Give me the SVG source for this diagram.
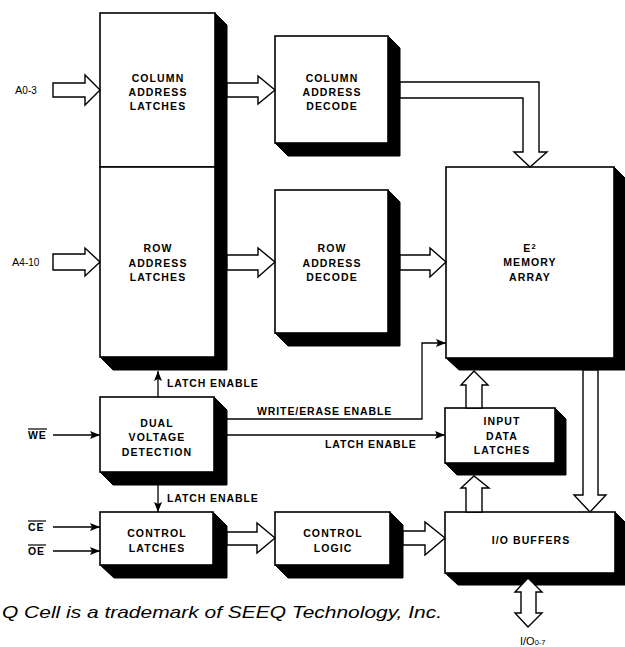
<svg xmlns="http://www.w3.org/2000/svg" width="625" height="647" viewBox="0 0 625 647">
  <style>
    .box { fill: #fff; stroke: #000; stroke-width: 1.6; }
    .shadow { fill: #000; stroke: #000; stroke-width: 1; stroke-linejoin: round; }
    .lbl { font-family: "Liberation Sans", Arial, sans-serif; font-weight: bold; font-size: 10.5px; letter-spacing: 1.1px; text-anchor: middle; fill: #000; }
    .sig { font-family: "Liberation Sans", Arial, sans-serif; font-weight: bold; font-size: 10.5px; letter-spacing: 0.9px; fill: #000; }
    .pin { font-family: "Liberation Sans", Arial, sans-serif; font-size: 11px; fill: #000; }
    .bus { fill: #fff; stroke: #000; stroke-width: 1.4; stroke-linejoin: miter; }
    .wire { fill: none; stroke: #000; stroke-width: 1.3; }
    .note { font-family: "Liberation Sans", Arial, sans-serif; font-style: italic; font-size: 16.5px; fill: #000; }
  </style>
  <defs>
    <marker id="ah" viewBox="0 0 10 8" refX="10" refY="4" markerWidth="10" markerHeight="8" markerUnits="userSpaceOnUse" orient="auto">
      <path d="M0,0 L10,4 L0,8 L2,4 Z" fill="#000"/>
    </marker>
  </defs>

  <!-- address latches (column over row, one tall block) -->
  <g id="column-address-latches">
    <polygon class="shadow" points="215,13 227,25 227,370 113,370 100,357 215,357"/>
    <rect class="box" x="100" y="13" width="115" height="154"/>
    <text class="lbl" x="158" y="82">COLUMN</text>
    <text class="lbl" x="158" y="96">ADDRESS</text>
    <text class="lbl" x="158" y="110">LATCHES</text>
  </g>
  <g id="row-address-latches">
    <rect class="box" x="100" y="167" width="115" height="190"/>
    <text class="lbl" x="158" y="252">ROW</text>
    <text class="lbl" x="158" y="267">ADDRESS</text>
    <text class="lbl" x="158" y="281">LATCHES</text>
  </g>

  <g id="column-address-decode">
    <polygon class="shadow" points="388,36 400,48 400,156 288,156 275,143 388,143"/>
    <rect class="box" x="275" y="36" width="113" height="107"/>
    <text class="lbl" x="332" y="82">COLUMN</text>
    <text class="lbl" x="332" y="96">ADDRESS</text>
    <text class="lbl" x="332" y="110">DECODE</text>
  </g>

  <g id="row-address-decode">
    <polygon class="shadow" points="388,190 400,202 400,346 288,346 275,333 388,333"/>
    <rect class="box" x="275" y="190" width="113" height="143"/>
    <text class="lbl" x="332" y="252">ROW</text>
    <text class="lbl" x="332" y="267">ADDRESS</text>
    <text class="lbl" x="332" y="281">DECODE</text>
  </g>

  <g id="memory-array">
    <polygon class="shadow" points="614,167 627,180 627,370 459,370 446,358 614,358"/>
    <rect class="box" x="446" y="167" width="168" height="191"/>
    <text class="lbl" x="530" y="252">E<tspan font-size="7.5" dy="-3">2</tspan></text>
    <text class="lbl" x="530" y="266">MEMORY</text>
    <text class="lbl" x="530" y="281">ARRAY</text>
  </g>

  <g id="dual-voltage-detection">
    <polygon class="shadow" points="214,397 227,410 227,485 113,485 100,472 214,472"/>
    <rect class="box" x="100" y="397" width="114" height="75"/>
    <text class="lbl" x="157" y="427">DUAL</text>
    <text class="lbl" x="157" y="441">VOLTAGE</text>
    <text class="lbl" x="157" y="456">DETECTION</text>
  </g>

  <g id="input-data-latches">
    <polygon class="shadow" points="555,408 566,419 566,475 457,475 445,463 555,463"/>
    <rect class="box" x="445" y="408" width="110" height="55"/>
    <text class="lbl" x="502" y="425">INPUT</text>
    <text class="lbl" x="502" y="440">DATA</text>
    <text class="lbl" x="502" y="454">LATCHES</text>
  </g>

  <g id="control-latches">
    <polygon class="shadow" points="213,512 227,526 227,578 114,578 100,565 213,565"/>
    <rect class="box" x="100" y="512" width="113" height="53"/>
    <text class="lbl" x="157" y="537">CONTROL</text>
    <text class="lbl" x="157" y="552">LATCHES</text>
  </g>

  <g id="control-logic">
    <polygon class="shadow" points="390,512 403,525 403,578 288,578 275,565 390,565"/>
    <rect class="box" x="275" y="512" width="115" height="53"/>
    <text class="lbl" x="333" y="537">CONTROL</text>
    <text class="lbl" x="333" y="552">LOGIC</text>
  </g>

  <g id="io-buffers">
    <polygon class="shadow" points="615,512 627,524 627,585 458,585 445,573 615,573"/>
    <rect class="box" x="445" y="512" width="170" height="61"/>
    <text class="lbl" x="531" y="544">I/O BUFFERS</text>
  </g>

  <!-- buses (hollow arrows) and control wires -->
  <g id="connectors">
    <!-- address inputs -->
    <polygon class="bus" points="53,83 85,83 85,75 100,90 85,105 85,97 53,97"/>
    <polygon class="bus" points="53,254 85,254 85,248 100,262 85,276 85,270 53,270"/>
    <!-- latches to decoders -->
    <polygon class="bus" points="227,83 258,83 258,76 275,90 258,104 258,97 227,97"/>
    <polygon class="bus" points="227,255 258,255 258,248 275,262 258,277 258,270 227,270"/>
    <!-- decoders to array -->
    <polygon class="bus" points="400,82 539,82 539,152 547,152 530,167 514,152 523,152 523,98 400,98"/>
    <polygon class="bus" points="400,255 430,255 430,248 446,262 430,277 430,270 400,270"/>
    <!-- input data latches to array -->
    <polygon class="bus" points="466,408 466,385 461,385 474,371 488,385 482,385 482,408"/>
    <!-- I/O buffers to input data latches -->
    <polygon class="bus" points="466,512 466,488 461,488 474,476 489,488 482,488 482,512"/>
    <!-- array to I/O buffers -->
    <polygon class="bus" points="583,370 583,495 574,495 590,512 606,495 598,495 598,370"/>
    <!-- control path -->
    <polygon class="bus" points="227,532 257,532 257,523 275,538 257,553 257,545 227,545"/>
    <polygon class="bus" points="403,531 425,531 425,522 445,538 425,555 425,545 403,545"/>
    <!-- external data bus -->
    <polygon class="bus" points="528,578 542,592 536,592 536,613 542,613 528,627 515,613 521,613 521,592 515,592"/>

    <!-- control wires -->
    <line class="wire" x1="53" y1="435" x2="100" y2="435" marker-end="url(#ah)"/>
    <line class="wire" x1="53" y1="527" x2="100" y2="527" marker-end="url(#ah)"/>
    <line class="wire" x1="53" y1="551" x2="100" y2="551" marker-end="url(#ah)"/>
    <line class="wire" x1="158" y1="397" x2="158" y2="371" marker-end="url(#ah)"/>
    <line class="wire" x1="158" y1="485" x2="158" y2="512" marker-end="url(#ah)"/>
    <polyline class="wire" points="227,419 422,419 422,343 446,343" marker-end="url(#ah)"/>
    <line class="wire" x1="227" y1="435" x2="445" y2="435" marker-end="url(#ah)"/>

    <!-- wire labels -->
    <text class="sig" x="167" y="387">LATCH  ENABLE</text>
    <text class="sig" x="257" y="415">WRITE/ERASE ENABLE</text>
    <text class="sig" x="325" y="448">LATCH  ENABLE</text>
    <text class="sig" x="167" y="502">LATCH  ENABLE</text>
  </g>

  <!-- pin names -->
  <g id="pins">
    <text class="pin" x="15" y="94">A<tspan font-size="10">0-3</tspan></text>
    <text class="pin" x="12" y="266">A<tspan font-size="10">4-10</tspan></text>
    <text class="sig" x="28" y="439" letter-spacing="0">WE</text>
    <line x1="28" y1="429" x2="47" y2="429" stroke="#000" stroke-width="1.2"/>
    <text class="sig" x="28" y="531" letter-spacing="0">CE</text>
    <line x1="28" y1="521" x2="46" y2="521" stroke="#000" stroke-width="1.2"/>
    <text class="sig" x="28" y="555" letter-spacing="0">OE</text>
    <line x1="28" y1="545" x2="46" y2="545" stroke="#000" stroke-width="1.2"/>
    <text class="pin" x="520" y="645" font-size="9">I/O<tspan font-size="7.5">0-7</tspan></text>
  </g>

  <text class="note" x="2" y="618" textLength="440" lengthAdjust="spacingAndGlyphs">Q Cell is a trademark of SEEQ Technology, Inc.</text>
</svg>
